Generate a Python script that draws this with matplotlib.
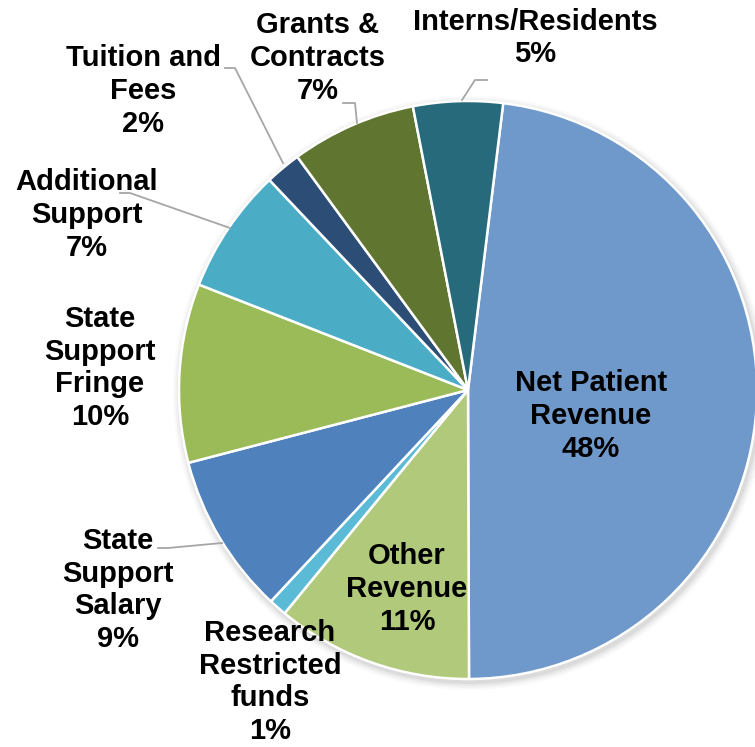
import matplotlib.pyplot as plt
import numpy as np

# revenue categories, clockwise from the top
categories = ["Net Patient\nRevenue", "Other\nRevenue", "Research\nRestricted\nfunds",
              "State\nSupport\nSalary", "State\nSupport\nFringe", "Additional\nSupport",
              "Tuition and\nFees", "Grants &\nContracts", "Interns/Residents"]
shares = [48, 11, 1, 9, 10, 7, 2, 7, 5]
colors = ["#7099CB", "#B0C97A", "#5BBAD6", "#4F81BD", "#9BBB59",
          "#4BACC6", "#2C4D75", "#5F7530", "#276A7C"]

W, H = 755, 747
CX, CY, R = 468, H - 390, 289

fig = plt.figure(figsize=(W / 100, H / 100), dpi=100)
ax = fig.add_axes([0, 0, 1, 1])

# soft shadow round the pie
for i, a in enumerate([0.05, 0.04, 0.03, 0.02]):
    ax.add_patch(plt.Circle((CX + 2, CY - 3), R + 2 + 2 * i, color="black", alpha=a, lw=0, zorder=0))

wedges, _ = ax.pie(shares, colors=colors, startangle=83, counterclock=False,
                   center=(CX, CY), radius=R, frame=True,
                   wedgeprops=dict(edgecolor="white", linewidth=1.8))
ax.set_xlim(0, W)
ax.set_ylim(0, H)
ax.set_aspect("equal")
ax.axis("off")

# label text centres (pixel coords, y from top) and leader lines
label_pos = [(591, 416), (407, 589), (270, 682), (118, 590), (100, 368),
             (87, 215), (143, 91), (318, 58), (535, 38)]
leaders = {3: [(158, 548), (168, 548), (222, 543)],
           5: [(120, 193), (130, 193), (230, 228)],
           6: [(225, 68), (235, 68), (283, 163)],
           7: [(343, 103), (355, 103), (357, 123)],
           8: [(487, 80), (475, 80), (462, 100)]}

for i, (name, val) in enumerate(zip(categories, shares)):
    x, y = label_pos[i]
    ax.text(x, H - y, f"{name}\n{val}%", ha="center", va="center", fontsize=21,
            fontweight="bold", family="Liberation Sans", linespacing=1.22, zorder=5)
    if i in leaders:
        xs = [p[0] for p in leaders[i]]
        ys = [H - p[1] for p in leaders[i]]
        ax.plot(xs, ys, color="#A6A6A6", lw=1.3, zorder=4)

fig.savefig("out.png", dpi=100)
